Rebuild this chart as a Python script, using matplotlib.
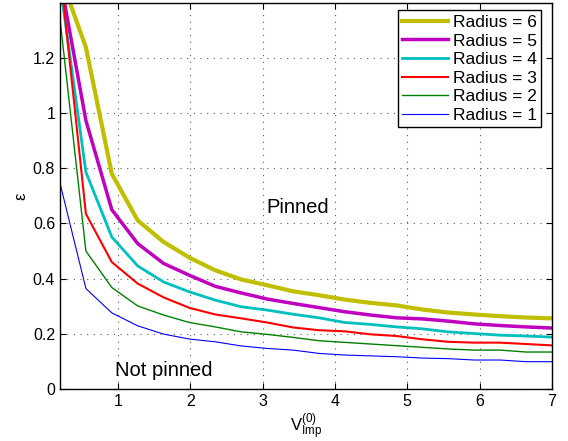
import numpy as np
import matplotlib
matplotlib.use('Agg')
import matplotlib.pyplot as plt

plt.rcParams['font.family'] = ['Liberation Sans', 'DejaVu Sans']
plt.rcParams['mathtext.fontset'] = 'custom'
plt.rcParams['mathtext.rm'] = 'Liberation Sans'
plt.rcParams['mathtext.it'] = 'Liberation Sans'

# impurity strength samples
v_imp = np.linspace(0.2, 7.0, 20)

# critical epsilon for each pinning radius
eps_r6 = [1.50, 1.238, 0.780, 0.611, 0.533, 0.476, 0.430, 0.397, 0.376, 0.354,
          0.340, 0.324, 0.312, 0.303, 0.288, 0.277, 0.270, 0.264, 0.259, 0.256]
eps_r5 = [1.49, 0.973, 0.650, 0.527, 0.455, 0.412, 0.372, 0.348, 0.326, 0.310,
          0.295, 0.280, 0.268, 0.258, 0.254, 0.246, 0.236, 0.230, 0.225, 0.221]
eps_r4 = [1.47, 0.786, 0.551, 0.446, 0.388, 0.352, 0.322, 0.298, 0.286, 0.271,
          0.258, 0.241, 0.234, 0.225, 0.218, 0.207, 0.201, 0.195, 0.192, 0.188]
eps_r3 = [1.52, 0.635, 0.460, 0.382, 0.332, 0.294, 0.270, 0.256, 0.241, 0.223,
          0.213, 0.209, 0.198, 0.192, 0.180, 0.171, 0.168, 0.168, 0.163, 0.158]
eps_r2 = [1.34, 0.500, 0.368, 0.301, 0.268, 0.241, 0.225, 0.207, 0.198, 0.187,
          0.175, 0.169, 0.163, 0.157, 0.151, 0.145, 0.141, 0.141, 0.134, 0.134]
eps_r1 = [0.746, 0.364, 0.276, 0.229, 0.199, 0.181, 0.171, 0.156, 0.147, 0.141,
          0.129, 0.123, 0.120, 0.117, 0.112, 0.110, 0.105, 0.105, 0.099, 0.099]

curves = [eps_r6, eps_r5, eps_r4, eps_r3, eps_r2, eps_r1]
radii = [6, 5, 4, 3, 2, 1]
colors = ['#BFBF00', '#BF00BF', '#00BFBF', '#FF0000', '#008000', '#0000FF']
widths = [3.0, 2.5, 2.0, 1.5, 1.0, 0.8]

fig = plt.figure(figsize=(5.68, 4.41), dpi=100)
ax = fig.add_axes([60/568, 52/441, 492/568, 386.3/441])

for eps, r, c, lw in zip(curves, radii, colors, widths):
    ax.plot(v_imp, eps, color=c, lw=lw, label='Radius = %d' % r)

ax.set_xlim(0.2, 7)
ax.set_ylim(0, 1.4)
ax.set_xticks(np.arange(1, 8))
ax.set_yticks([0, 0.2, 0.4, 0.6, 0.8, 1, 1.2])
ax.set_yticklabels(['0', '0.2', '0.4', '0.6', '0.8', '1', '1.2'])
ax.tick_params(direction='in', top=True, right=True, labelsize=11.5, length=4, width=0.8)
ax.grid(True, linestyle=(0, (1, 5)), color='0.35', lw=0.8)
for s in ax.spines.values():
    s.set_linewidth(1.0)

ax.set_xlabel(r'V$_{\rm Imp}^{\rm (0)}$', fontsize=12, labelpad=2)
ax.set_ylabel('ε', fontsize=12, labelpad=3)

ax.text(3.05, 0.638, 'Pinned', fontsize=14.5, va='baseline')
ax.text(0.96, 0.047, 'Not pinned', fontsize=14.5, va='baseline')

leg = ax.legend(loc='upper right', bbox_to_anchor=(0.978, 0.98), fontsize=12.5,
                handlelength=2.6, labelspacing=0.2, borderpad=0.25,
                handletextpad=0.3, borderaxespad=0, fancybox=False, framealpha=1)
leg.get_frame().set_edgecolor('black')
leg.get_frame().set_linewidth(1.0)

fig.savefig('out.png', dpi=100)
